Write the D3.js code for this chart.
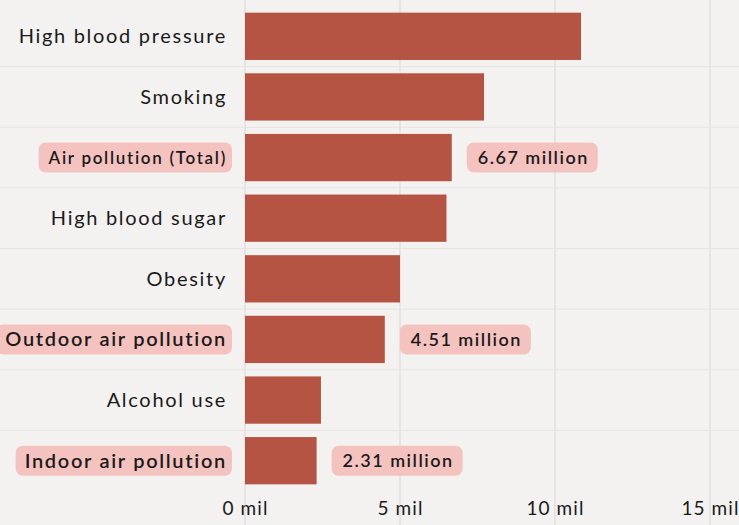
<html>
  <head>
    <script src="https://cdn.jsdelivr.net/npm/d3@7"></script>
    <style>
      body { margin: 0; background-color: #f3f2f1; }
      text { font-family: Lato, "Open Sans", sans-serif; }
    </style>
  </head>
  <body>
    <script>
      const width = 739, height = 525;

      // data (deaths, millions)
      const categories = ["High blood pressure", "Smoking", "Air pollution (Total)", "High blood sugar",
                          "Obesity", "Outdoor air pollution", "Alcohol use", "Indoor air pollution"];
      const values = [10.84, 7.71, 6.67, 6.5, 5.0, 4.51, 2.45, 2.31];
      const highlighted = ["Air pollution (Total)", "Outdoor air pollution", "Indoor air pollution"];
      const valueLabels = ["", "", "6.67 million", "", "", "4.51 million", "", "2.31 million"];
      const tickValues = [0, 5, 10, 15];

      const data = categories.map((c, i) => ({ cat: c, value: values[i], label: valueLabels[i] }));

      const svg = d3.select("body").append("svg")
          .attr("width", width)
          .attr("height", height);

      svg.append("rect").attr("width", width).attr("height", height).attr("fill", "#f3f2f1");

      const x = d3.scaleLinear().domain([0, 15]).range([245, 710]);
      const y = d3.scaleBand().domain(categories).range([6, 491]).paddingInner(0.22).paddingOuter(0.11);

      // faint paper grid
      svg.append("g").selectAll("line.v")
        .data(tickValues)
        .join("line")
          .attr("x1", d => x(d)).attr("x2", d => x(d))
          .attr("y1", 0).attr("y2", height)
          .attr("stroke", "#dddbd9").attr("stroke-width", 1.2);

      svg.append("g").selectAll("line.h")
        .data(categories.slice(1))
        .join("line")
          .attr("x1", 0).attr("x2", width)
          .attr("y1", d => y(d) - y.step() * y.paddingInner() / 2)
          .attr("y2", d => y(d) - y.step() * y.paddingInner() / 2)
          .attr("stroke", "#e6e4e2").attr("stroke-width", 1);

      // bars
      svg.append("g").selectAll("rect")
        .data(data)
        .join("rect")
          .attr("x", x(0))
          .attr("y", d => y(d.cat))
          .attr("width", d => x(d.value) - x(0))
          .attr("height", y.bandwidth())
          .attr("fill", "#b65444");

      // category labels
      const labels = svg.append("g").selectAll("g")
        .data(data)
        .join("g")
          .attr("transform", d => `translate(227,${y(d.cat) + y.bandwidth() / 2})`);

      labels.each(function(d) {
        const g = d3.select(this);
        const hl = highlighted.includes(d.cat);
        const small = d.cat === "Air pollution (Total)";
        const t = g.append("text")
            .attr("text-anchor", "end")
            .attr("dy", "0.35em")
            .attr("fill", "#1a1a1a")
            .style("font-size", small ? "17px" : "20px")
            .style("letter-spacing", "1.7px")
            .style("font-weight", hl ? 600 : 400)
            .text(d.cat);
        if (hl) {
          const b = t.node().getBBox();
          g.insert("rect", "text")
            .attr("x", b.x - 9).attr("y", -15)
            .attr("width", b.width + 14).attr("height", 30)
            .attr("rx", 7)
            .attr("fill", "#f5c3bf");
        }
      });

      // value labels
      const vals = svg.append("g").selectAll("g")
        .data(data.filter(d => d.label))
        .join("g")
          .attr("transform", d => `translate(${x(d.value) + 15},${y(d.cat) + y.bandwidth() / 2})`);

      vals.each(function(d) {
        const g = d3.select(this);
        const t = g.append("text")
            .attr("x", 11)
            .attr("dy", "0.35em")
            .attr("fill", "#1a1a1a")
            .style("font-size", "18px")
            .style("letter-spacing", "1.5px")
            .style("font-weight", 600)
            .text(d.label);
        const b = t.node().getBBox();
        g.insert("rect", "text")
          .attr("x", 0).attr("y", -15)
          .attr("width", b.width + 20).attr("height", 30)
          .attr("rx", 7)
          .attr("fill", "#f5c3bf");
      });

      // x axis
      const axis = svg.append("g")
          .attr("transform", "translate(0,508)")
          .call(d3.axisBottom(x).tickValues(tickValues).tickFormat(d => `${d} mil`).tickSize(0));
      axis.select(".domain").remove();
      axis.selectAll("text")
          .attr("dy", "0.35em")
          .attr("y", 0)
          .style("font-family", "Lato, sans-serif")
          .style("font-size", "19px")
          .style("letter-spacing", "1.1px")
          .attr("fill", "#1a1a1a");
    </script>
  </body>
</html>
